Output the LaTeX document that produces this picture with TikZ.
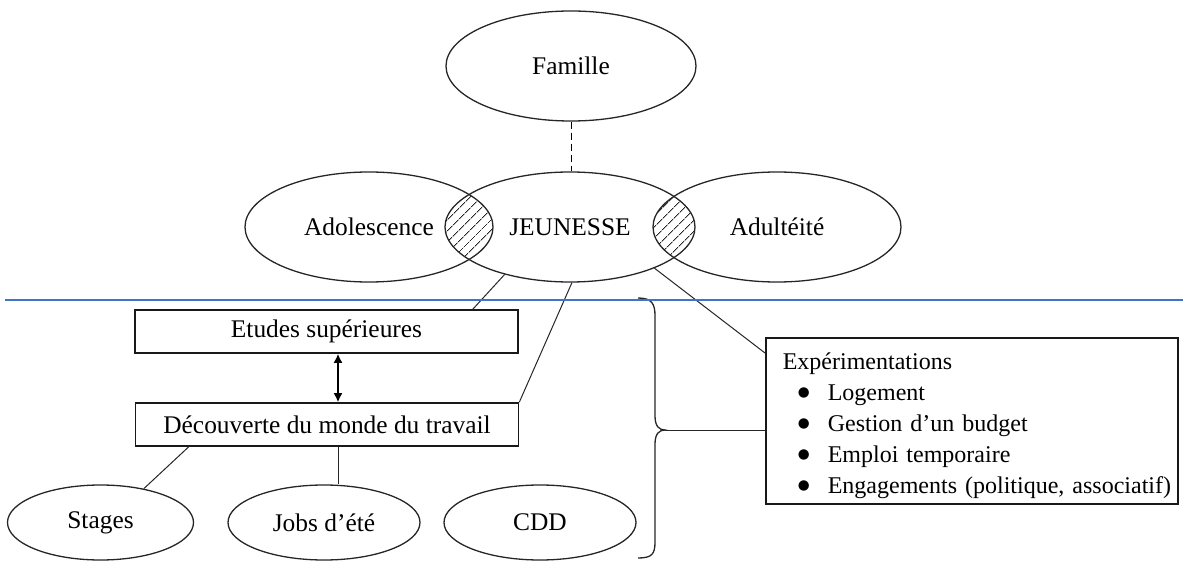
\documentclass[tikz,border=0pt]{standalone}
\usepackage{fontspec}
\setmainfont{Liberation Serif}
\newfontfamily\symboles{DejaVu Sans}
\usetikzlibrary{patterns.meta,shapes.geometric,arrows.meta}
\definecolor{lineblue}{RGB}{68,114,196}
\newcommand{\puce}{\hspace*{7.5pt}\makebox[15pt][l]{\raisebox{2.2pt}{\symboles\fontsize{6.8pt}{0pt}\selectfont ●}}}

\begin{document}
\begin{tikzpicture}[x=0.5pt,y=-0.5pt,
		font=\fontsize{12.7pt}{15.5pt}\selectfont,
		bulle/.style={draw=black!85,line width=0.65pt,ellipse,inner sep=0pt,minimum width=124pt,minimum height=55pt},
		petite/.style={draw=black!85,line width=0.65pt,ellipse,inner sep=0pt,minimum width=93pt,minimum height=37.5pt},
		boite/.style={draw=black!90,line width=0.8pt,rectangle,inner sep=0pt,minimum width=191.5pt,minimum height=21.5pt},
		lien/.style={draw=black!85,line width=0.5pt},
		hachure/.style={pattern={Lines[angle=45,distance=4pt,line width=0.45pt]},pattern color=black!85}]
		\useasboundingbox (0,0) rectangle (1183,561);
		\node[bulle,minimum width=125pt] (famille) at (571,66) {Famille};
		\node[bulle] (adolescence) at (369,227) {Adolescence};
		\node[bulle,minimum width=125pt] (jeunesse) at (570,227) {JEUNESSE};
		\node[bulle] (adulteite) at (777,227) {Adultéité};
		\begin{scope}
			\clip (adolescence.center) ellipse [x radius=62pt,y radius=27.5pt];
			\fill[hachure] (jeunesse.center) ellipse [x radius=62.5pt,y radius=27.5pt];
		\end{scope}
		\begin{scope}
			\clip (adulteite.center) ellipse [x radius=62pt,y radius=27.5pt];
			\fill[hachure] (jeunesse.center) ellipse [x radius=62.5pt,y radius=27.5pt];
		\end{scope}
		\node[boite] (etudes) at (326.5,331.5) {Etudes supérieures};
		\node[boite] (decouverte) at (327,424.5) {Découverte du monde du travail};
		\node[petite] (stages) at (100.5,522.5) {Stages};
		\node[petite,minimum width=96pt] (jobs) at (324,522.5) {Jobs d’été};
		\node[petite,minimum width=96pt] (cdd) at (540,522.5) {CDD};
		\node[draw=black!90,line width=0.8pt,rectangle,anchor=north west,minimum width=206pt,minimum height=83pt,
			inner xsep=8.5pt,inner ysep=0pt,text width=189pt,align=left,font=\fontsize{12pt}{15.5pt}\selectfont]
			(experiences) at (765,337) {\rule{0pt}{13.5pt}Expérimentations\\
			\puce Logement\\
			\puce Gestion d’un budget\\
			\puce Emploi temporaire\\
			\puce\mbox{Engagements (politique, associatif)}};
		\coordinate (axe) at (338,0);
		\coordinate (pointe) at (665,430);
		\draw[lien,black,dash pattern=on 3.5pt off 2pt] (famille.south) -- (famille.south |- jeunesse.north);
		\draw[lien] (jeunesse.-144) -- ([xshift=-23pt]etudes.north east);
		\draw[lien] (jeunesse.-88) -- (decouverte.north east);
		\draw[lien] (jeunesse.-26) -- ([yshift=-8pt]experiences.north west);
		\draw[lien,black,line width=0.8pt,{Latex[length=4.5pt,width=4.5pt]}-{Latex[length=4.5pt,width=4.5pt]}] (etudes.south -| axe) -- (decouverte.north -| axe);
		\draw[lien] ([xshift=27pt]decouverte.south west) -- (stages.38);
		\draw[lien] (decouverte.south -| axe) -- (jobs.north -| axe);
		\draw[lien,line width=0.65pt] (638,298) .. controls (652,298) and (655,304) .. (655,316) -- (655,416)
			.. controls (655,426) and (659,430) .. (pointe) .. controls (659,430) and (655,434) .. (655,444)
			-- (655,542) .. controls (655,554) and (652,558) .. (638,558);
		\draw[lien] (pointe) -- (experiences.west |- pointe);
		\draw[lineblue,line width=1pt] (5,300) -- (1183,300);
	\end{tikzpicture}
\end{document}
